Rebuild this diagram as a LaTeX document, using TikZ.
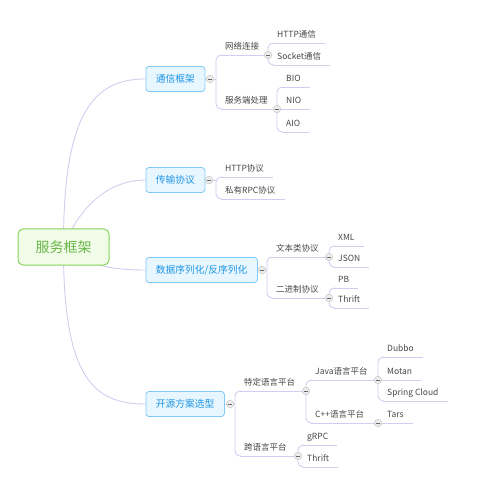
\documentclass[tikz,border=0pt]{standalone}
\usepackage{fontspec}
\newfontfamily\cjk{Noto Sans CJK SC}
\usetikzlibrary{calc}
\definecolor{linec}{RGB}{216,202,238}
\definecolor{leaftext}{RGB}{70,70,70}
\definecolor{topicb}{RGB}{128,202,250}
\definecolor{topicf}{RGB}{232,246,255}
\definecolor{topict}{RGB}{30,150,230}
\definecolor{rootb}{RGB}{132,212,92}
\definecolor{rootf}{RGB}{241,252,232}
\definecolor{roott}{RGB}{104,182,72}
\definecolor{togb}{RGB}{196,196,196}
\definecolor{togf}{RGB}{236,236,236}
\pgfdeclarelayer{bg}
\pgfsetlayers{bg,main}
\newcommand{\mmbrk}[2]{\draw[br] ([xshift=6pt]#1.south west) -- (#1.south west) -- (#2.south west) -- ([xshift=6pt]#2.south west);}
\newcommand{\mmul}[1]{\draw[conn] ([xshift=5pt]#1.south west) -- (#1.south east);}
\newcommand{\mmulm}[1]{\draw[conn] (#1.south west) -- (#1.south east);}
\newcommand{\mmulp}[2]{\draw[conn] ([xshift=5pt]#1.south west) -- (#2);}
\begin{document}
\begin{tikzpicture}[x=1pt,y=-1pt,
  leaf/.style={anchor=south west, inner xsep=9pt, inner ysep=5pt, text depth=0pt, text height=7pt,
    font=\cjk\fontsize{8.5}{10}\selectfont, text=leaftext},
  topic/.style={draw=topicb, fill=topicf, text=topict, rounded corners=3pt, line width=0.8pt,
    inner xsep=10pt, minimum height=25pt, anchor=west, font=\cjk\fontsize{9.75}{11}\selectfont},
  rootbox/.style={draw=rootb, fill=rootf, text=roott, rounded corners=5pt, line width=1pt,
    minimum width=91pt, minimum height=36pt, font=\cjk\fontsize{14}{16}\selectfont},
  conn/.style={draw=linec, line width=0.9pt},
  br/.style={conn, rounded corners=5pt},
  tog/.style={circle, draw=togb, fill=togf, line width=0.5pt, minimum size=7.5pt, inner sep=0pt,
    path picture={\draw[black!60, line width=0.7pt] ([xshift=-1.8pt]path picture bounding box.center) -- ([xshift=1.8pt]path picture bounding box.center);}},
]
\useasboundingbox (0,0) rectangle (500,494);

% root and topics
\node[rootbox] (root) at (63.5,247) {服务框架};
\node[topic] (t1) at (145.5,79) {通信框架};
\node[topic] (t2) at (145.5,180) {传输协议};
\node[topic] (t3) at (145.5,270) {数据序列化/反序列化};
\node[topic] (t4) at (145.5,404) {开源方案选型};

\begin{pgfonlayer}{bg}
\draw[conn] (root.center) .. controls (63,110) and (95,79) .. (t1.west);
\draw[conn] (root.center) .. controls (80,205) and (110,180) .. (t2.west);
\draw[conn] (root.center) .. controls (90,268) and (120,270) .. (t3.west);
\draw[conn] (root.center) .. controls (63,380) and (95,404) .. (t4.west);
\end{pgfonlayer}

\coordinate (j1) at (210,79);
\coordinate (j2) at (209,180);
\coordinate (j3) at (262,270);
\coordinate (j4) at (230,404);

% ---- 通信框架
\node[leaf] (a1) at (216,55) {网络连接};
\node[leaf] (a2) at (216,109) {服务端处理};
\coordinate (ja1) at (268,55);
\coordinate (ja2) at (277,109);
\node[leaf] (a11) at (268,43) {HTTP通信};
\node[leaf] (a12) at (268,65) {Socket通信};
\node[leaf] (a21) at (277,87) {BIO};
\node[leaf] (a22) at (277,109) {NIO};
\node[leaf] (a23) at (277,132) {AIO};
\draw[conn] (t1.east) -- (j1) -- (j1 -| a1.south west);
\mmbrk{a1}{a2} \mmulp{a1}{ja1} \mmulp{a2}{ja2}
\mmbrk{a11}{a12} \mmul{a11} \mmul{a12}
\mmbrk{a21}{a23} \mmul{a21} \mmulm{a22} \mmul{a23}

% ---- 传输协议
\node[leaf] (b1) at (216,177) {HTTP协议};
\node[leaf] (b2) at (216,199) {私有RPC协议};
\draw[conn] (t2.east) -- (j2) -- (j2 -| b1.south west);
\mmbrk{b1}{b2} \mmul{b1} \mmul{b2}

% ---- 数据序列化/反序列化
\node[leaf] (c1) at (267,257) {文本类协议};
\node[leaf] (c2) at (267,298) {二进制协议};
\coordinate (jc1) at (329,257);
\coordinate (jc2) at (329,298);
\node[leaf] (c11) at (329,246) {XML};
\node[leaf] (c12) at (329,267) {JSON};
\node[leaf] (c21) at (329,288) {PB};
\node[leaf] (c22) at (329,308) {Thrift};
\draw[conn] (t3.east) -- (j3) -- (j3 -| c1.south west);
\mmbrk{c1}{c2} \mmulp{c1}{jc1} \mmulp{c2}{jc2}
\mmbrk{c11}{c12} \mmul{c11} \mmul{c12}
\mmbrk{c21}{c22} \mmul{c21} \mmul{c22}

% ---- 开源方案选型
\node[leaf] (d1) at (235,391) {特定语言平台};
\node[leaf] (d2) at (235,456) {跨语言平台};
\coordinate (jd1) at (306,391);
\coordinate (jd2) at (298,456);
\node[leaf] (d11) at (306,380) {Java语言平台};
\node[leaf] (d12) at (306,423) {C++语言平台};
\coordinate (jd11) at (378,380);
\coordinate (jd12) at (378,423);
\node[leaf] (d111) at (378,357) {Dubbo};
\node[leaf] (d112) at (378,380) {Motan};
\node[leaf] (d113) at (378,401) {Spring Cloud};
\node[leaf] (d121) at (378,423) {Tars};
\node[leaf] (d21) at (298,445) {gRPC};
\node[leaf] (d22) at (298,467) {Thrift};
\draw[conn] (t4.east) -- (j4) -- (j4 -| d1.south west);
\mmbrk{d1}{d2} \mmulp{d1}{jd1} \mmulp{d2}{jd2}
\mmbrk{d11}{d12} \mmulp{d11}{jd11} \mmulp{d12}{jd12}
\mmbrk{d111}{d113} \mmul{d111} \mmulm{d112} \mmul{d113}
\mmulm{d121}
\mmbrk{d21}{d22} \mmul{d21} \mmul{d22}

% collapse toggles
\foreach \j in {j1,j2,j3,j4,ja1,ja2,jc1,jc2,jd1,jd2,jd11,jd12}
  \node[tog] at (\j) {};
\end{tikzpicture}
\end{document}
